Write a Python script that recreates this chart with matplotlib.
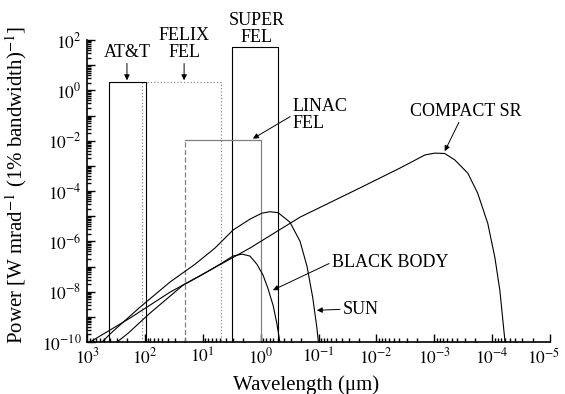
import numpy as np
import matplotlib
matplotlib.use("Agg")
import matplotlib.pyplot as plt
import matplotlib.transforms as mtransforms
from matplotlib.ticker import FixedLocator, LogLocator, FuncFormatter, NullFormatter

plt.rcParams['font.family'] = ['Liberation Serif', 'DejaVu Serif']
plt.rcParams['mathtext.fontset'] = 'stix'

#%% values (wavelength in um, power in W/mrad/1%BW)

sr_wl = [1000, 887, 181, 36.9, 7.52, 1.53, 0.209, 0.0193, 3.93e-3, 1.45e-3, 9.8e-4,
         6.6e-4, 4.4e-4, 2.63e-4, 1.78e-4, 1.19e-4, 8.97e-5, 7.36e-5, 6.53e-5, 6.03e-5, 5.9e-5]
sr_pw = [8.5e-11, 1e-10, 8.9e-10, 9.5e-9, 7.1e-8, 5.4e-7, 9.1e-6, 1.32e-4, 8.1e-4, 2.7e-3, 3.2e-3,
         3.1e-3, 1.7e-3, 5.1e-4, 8.3e-5, 5.2e-6, 2.3e-7, 1.15e-8, 7.4e-10, 1.2e-10, 5e-11]

sun_wl = [600, 551, 370, 122, 36.9, 13.6, 6.15, 3.0, 1.53, 0.95, 0.69, 0.50,
          0.312, 0.209, 0.158, 0.126, 0.107, 0.1005, 0.099]
sun_pw = [6e-11, 1e-10, 2.45e-10, 2.4e-9, 2.4e-8, 1.23e-7, 5.4e-7, 2.8e-6, 7.6e-6, 1.32e-5, 1.5e-5, 1.38e-5,
          5.8e-6, 1.02e-6, 1.02e-7, 6.0e-9, 3.9e-10, 1e-10, 5e-11]

bb_wl = [330, 303, 196, 81.7, 22.0, 11.2, 5.05, 3.0, 2.1, 1.53, 1.16,
         0.91, 0.75, 0.61, 0.525, 0.465, 0.46]
bb_pw = [6e-11, 1e-10, 2.2e-10, 1.4e-9, 1.8e-8, 4.2e-8, 1.23e-7, 2.6e-7, 3.1e-7, 2.6e-7, 1.23e-7,
         4.6e-8, 1.38e-8, 2.9e-9, 5.6e-10, 1e-10, 5e-11]

# laser bands: (long wavelength, short wavelength, peak power)
att_band = (417, 95, 2.1)
felix_band = (112, 4.85, 2.1)
super_band = (3.1, 0.5, 52)
linac_band = (20.3, 1.0, 0.0105)

floor = 1e-10

#%% plot

fig = plt.figure(figsize=(5.65, 3.94), dpi=100)
ax = fig.add_axes([87/565, 52/394, 463/565, 302/394])

def box(band, **kw):
    x0, x1, top = band
    ax.plot([x0, x0, x1, x1], [floor, top, top, floor], **kw)

box(felix_band, color='0.55', lw=0.9, ls=':')
box(att_band, color='k', lw=0.8)
box(super_band, color='k', lw=0.8)
x0, x1, top = linac_band
ax.plot([x0, x1, x1], [top, top, floor], color='0.5', lw=0.9)
ax.plot([x0, x0], [floor, top], color='0.5', lw=0.9, ls=(0, (4, 2)))

ax.plot(sr_wl, sr_pw, color='k', lw=0.8)
ax.plot(sun_wl, sun_pw, color='k', lw=0.8)
ax.plot(bb_wl, bb_pw, color='k', lw=0.8)

ax.set_xscale('log')
ax.set_yscale('log')
ax.set_xlim(1e3, 1e-5)
ax.set_ylim(1e-10, 1e2)

for s in ['top', 'right']:
    ax.spines[s].set_visible(False)
for s in ['left', 'bottom']:
    ax.spines[s].set_linewidth(1.2)

def fmt(v, pos, step=1):
    e = int(round(np.log10(v)))
    if e % step:
        return ''
    return r'$10^{%d}$' % e

ax.xaxis.set_major_locator(FixedLocator(10.0 ** np.arange(-5, 4)))
ax.xaxis.set_major_formatter(FuncFormatter(fmt))
ax.xaxis.set_minor_locator(LogLocator(base=10, subs=np.arange(2, 10), numticks=100))
ax.xaxis.set_minor_formatter(NullFormatter())
ax.yaxis.set_major_locator(FixedLocator(10.0 ** np.arange(-10, 3)))
ax.yaxis.set_major_formatter(FuncFormatter(lambda v, p: fmt(v, p, 2)))
ax.yaxis.set_minor_locator(LogLocator(base=10, subs=np.arange(2, 10), numticks=100))
ax.yaxis.set_minor_formatter(NullFormatter())
ax.tick_params(which='both', direction='in', labelsize=12.5, width=1)
ax.tick_params(which='major', length=6, pad=4)
ax.tick_params(which='minor', length=3)

# nudge the right-most x label (10^-5) so it stays inside the figure
fig.canvas.draw()
for t in ax.xaxis.get_major_ticks():
    if np.isclose(t.get_loc(), 1e-5):
        lab = t.label1
        lab.set_transform(lab.get_transform() + mtransforms.ScaledTranslation(-6/100, 0, fig.dpi_scale_trans))

ax.set_xlabel('Wavelength (μm)', fontsize=15)
ax.set_ylabel(r'Power [W mrad$^{-1}$ (1% bandwidth)$^{-1}$]', fontsize=15)
ax.xaxis.set_label_coords(0.473, -0.11)
ax.yaxis.set_label_coords(-0.125, 0.52)

# labels and arrows
arrow = dict(arrowstyle='-|>', color='k', lw=0.7, mutation_scale=8, shrinkA=0, shrinkB=0)
fs = 13

ax.annotate('AT&T', xy=(204, 2.5), xytext=(204, 10**1.52), ha='center', va='center',
            fontsize=fs, arrowprops=arrow, annotation_clip=False)
ax.annotate('FELIX\nFEL', xy=(21, 2.5), xytext=(21, 10**1.84), ha='center', va='center',
            fontsize=fs, linespacing=0.95, arrowprops=arrow, annotation_clip=False)
ax.text(1.16, 10**2.44, 'SUPER\nFEL', ha='center', va='center', fontsize=fs, linespacing=0.95)
ax.annotate('LINAC\nFEL', xy=(1.36, 10**-1.92), xytext=(10**-0.558, 10**-0.98), ha='left', va='center',
            fontsize=fs, linespacing=0.95, arrowprops=dict(arrow, relpos=(0, 0.5)))
ax.annotate('COMPACT SR', xy=(6.6e-4, 10**-2.42), xytext=(10**-3.546, 10**-0.823), ha='center', va='center',
            fontsize=fs, arrowprops=dict(arrow, relpos=(0.45, 0)))
ax.annotate('BLACK BODY', xy=(0.614, 10**-7.94), xytext=(10**-1.231, 10**-6.83), ha='left', va='center',
            fontsize=fs, arrowprops=dict(arrow, relpos=(0, 0.5)))
ax.annotate('SUN', xy=(0.107, 10**-8.74), xytext=(10**-1.42, 10**-8.70), ha='left', va='center',
            fontsize=fs, arrowprops=dict(arrow, relpos=(0, 0.5)))

fig.savefig('out.png', dpi=100)
